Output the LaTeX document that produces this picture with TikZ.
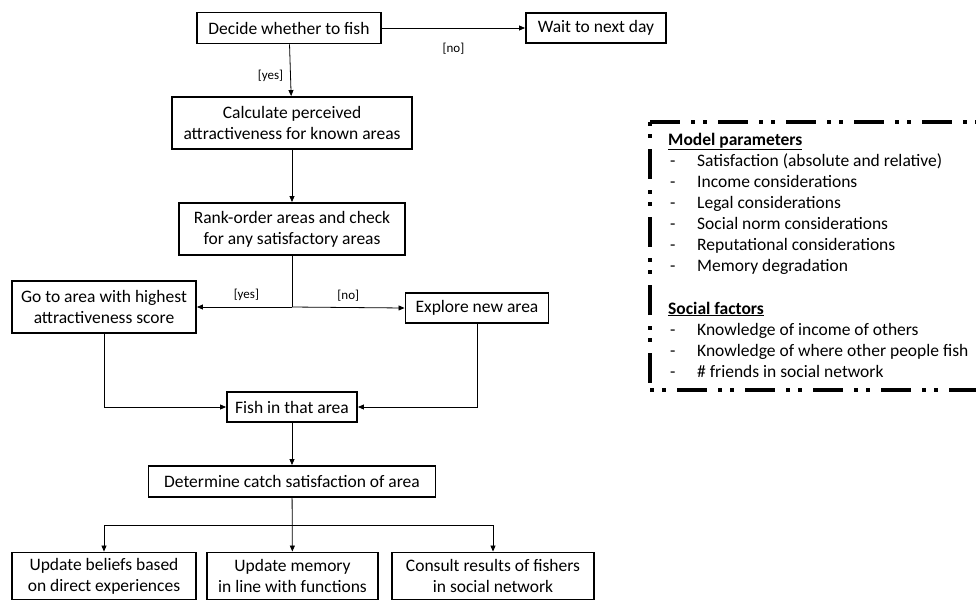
\documentclass[tikz,border=0pt]{standalone}
\usepackage{fontspec}
\setmainfont{Carlito}
\usetikzlibrary{arrows.meta}

\tikzset{
  stepbox/.style={draw, line width=1.9pt, align=center, inner sep=2pt, font=\fontsize{17.5}{21}\selectfont},
  flow/.style={line width=0.8pt, -{Triangle[length=6pt,width=5pt]}},
  choice/.style={font=\fontsize{13}{15}\selectfont, inner sep=1pt},
  item/.style={anchor=base west, inner sep=0pt, font=\fontsize{17.5}{21}\selectfont},
  frame/.style={line width=3.5pt, dash pattern=on 30pt off 11pt on 4pt off 8pt on 4pt off 11pt},
}

\begin{document}
\begin{tikzpicture}[x=1pt,y=-1pt]
  \useasboundingbox (0,0) rectangle (976,600);
  \clip (0,0) rectangle (976,600);

  % main flow
  \node[stepbox, minimum width=184pt, minimum height=31pt] (decide) at (289,28) {Decide whether to fish};
  \node[stepbox, minimum width=140pt, minimum height=30pt] (wait) at (596,28) {Wait to next day};
  \node[stepbox, minimum width=240pt, minimum height=52pt] (calc) at (292,123) {Calculate perceived\\attractiveness for known areas};
  \node[stepbox, minimum width=226pt, minimum height=52pt] (rank) at (292,229) {Rank-order areas and check\\for any satisfactory areas};
  \node[stepbox, minimum width=184pt, minimum height=52pt] (goarea) at (104,307) {Go to area with highest\\attractiveness score};
  \node[stepbox, minimum width=143pt, minimum height=30pt] (explore) at (477,308) {Explore new area};
  \node[stepbox, minimum width=130pt, minimum height=30pt] (fish) at (292,407) {Fish in that area};
  \node[stepbox, minimum width=287pt, minimum height=31pt] (catch) at (292,481.5) {Determine catch satisfaction of area};
  \node[stepbox, minimum width=184pt, minimum height=47pt] (belief) at (104,576) {Update beliefs based\\on direct experiences};
  \node[stepbox, minimum width=171pt, minimum height=47pt] (memory) at (292.5,576) {Update memory\\in line with functions};
  \node[stepbox, minimum width=202pt, minimum height=47pt] (consult) at (493,576) {Consult results of fishers\\in social network};

  \coordinate (split) at (rank.south |- goarea.east);
  \coordinate (fork) at (292,525);

  \draw[flow] (decide) -- node[choice, below=14pt] {[no]} (wait);
  \draw[flow] (decide) -- node[choice, left=6pt, pos=0.6] {[yes]} (calc);
  \draw[flow] (calc) -- (rank);
  \draw (rank.south) -- (split);
  \draw[flow] (split) -- node[choice, above=5pt, pos=0.48] {[yes]} (goarea.east);
  \draw[flow] (split) -- node[choice, above=5pt, pos=0.5] {[no]} (explore.west);
  \draw[flow] (goarea.south) |- (fish.west);
  \draw[flow] (explore.south) |- (fish.east);
  \draw[flow] (fish) -- (catch);
  \draw[flow] (catch) -- (memory);
  \draw[flow] (fork) -| (belief.north);
  \draw[flow] (fork) -| (consult.north);

  % legend
  \draw[frame] (650,122) -- (990,122);
  \draw[frame, dash phase=41pt] (650,122) -- (650,390);
  \draw[frame, dash phase=41pt] (650,390) -- (990,390);
  \node[item, font=\fontsize{17.5}{21}\selectfont\bfseries] (params) at (668,145) {\underline{Model parameters}};
  \foreach \txt [count=\i] in {Satisfaction (absolute and relative), Income considerations, Legal considerations, Social norm considerations, Reputational considerations, Memory degradation}
  {
    \node[item] at (670,145+21*\i) {-};
    \node[item] at (697,145+21*\i) {\txt};
  }
  \node[item, font=\fontsize{17.5}{21}\selectfont\bfseries] (social) at (668,314) {\underline{Social factors}};
  \foreach \txt [count=\i] in {Knowledge of income of others, Knowledge of where other people fish, \# friends in social network}
  {
    \node[item] at (670,314+21*\i) {-};
    \node[item] at (697,314+21*\i) {\txt};
  }
\end{tikzpicture}
\end{document}
